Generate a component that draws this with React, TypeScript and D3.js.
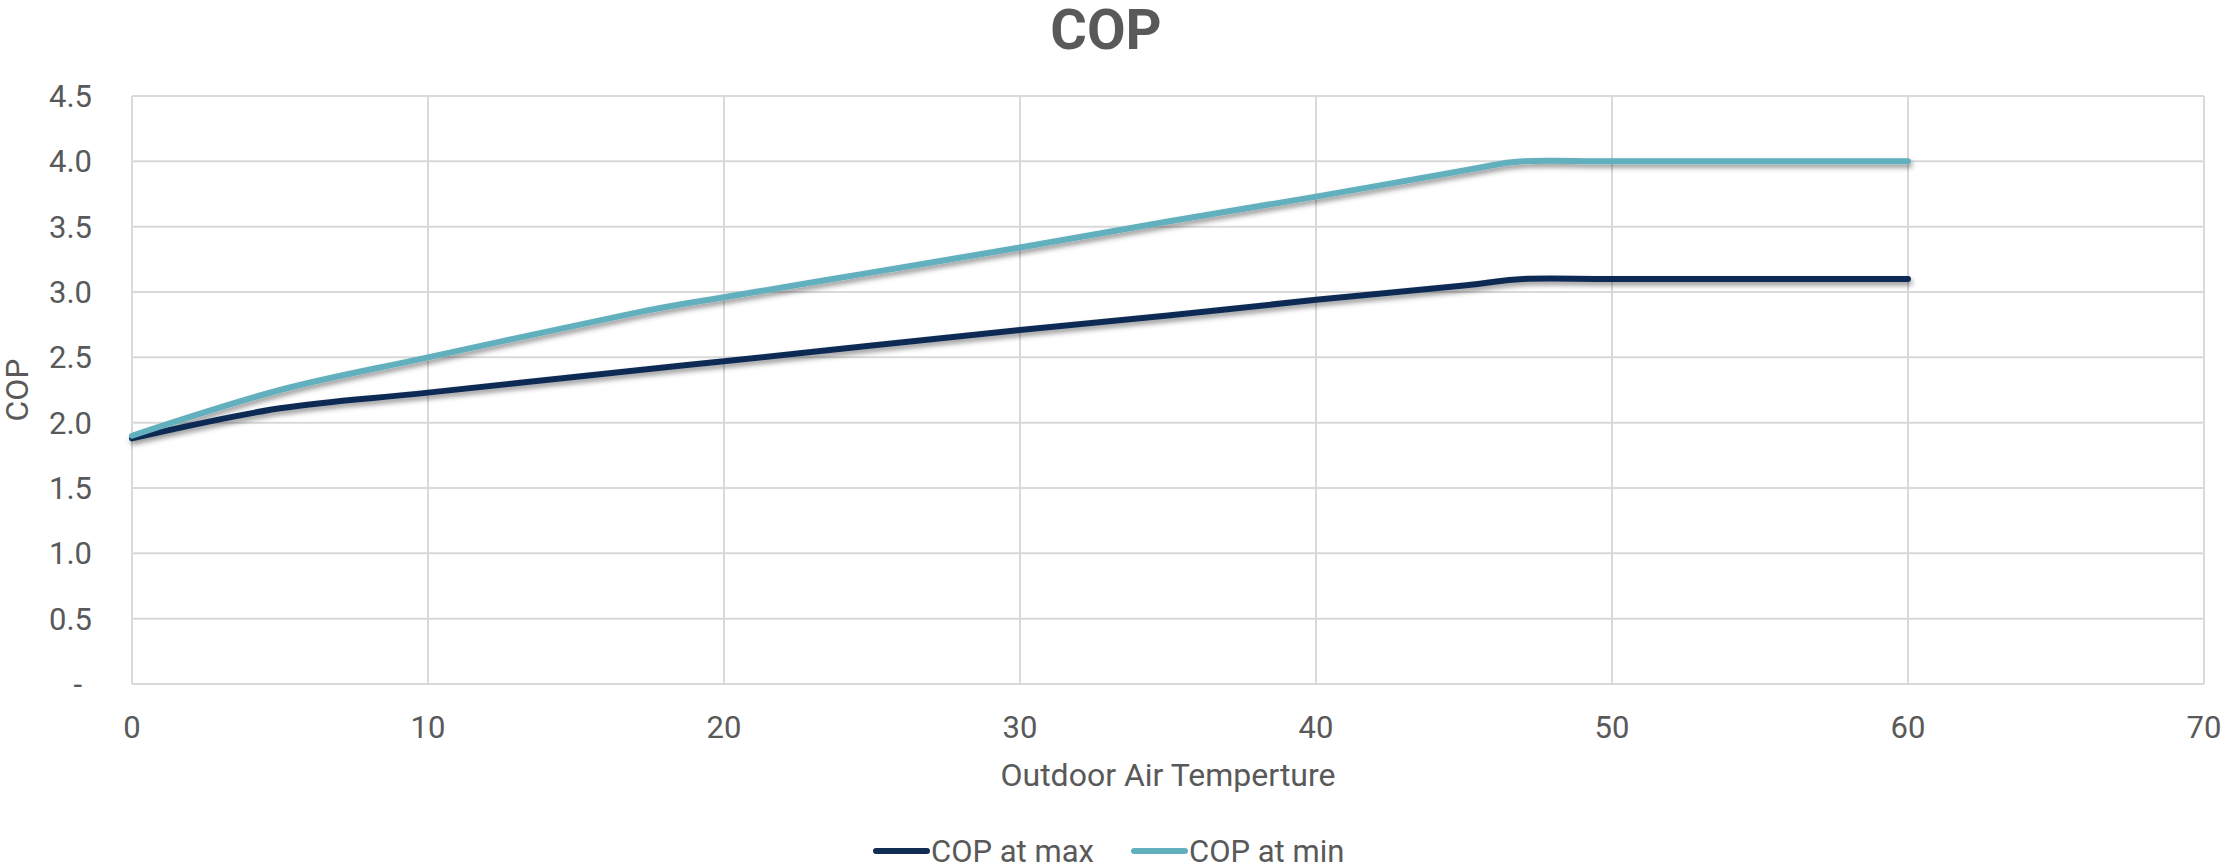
import React from "react";
import * as d3 from "d3";

// Outdoor air temperature
const temps = [0, 5, 10, 17, 20, 25, 30, 35, 40, 45, 47, 50, 55, 60];
// COP at maximum capacity
const copMax = [1.88, 2.11, 2.23, 2.4, 2.47, 2.59, 2.71, 2.82, 2.94, 3.05, 3.1, 3.1, 3.1, 3.1];
// COP at minimum capacity
const copMin = [1.9, 2.25, 2.5, 2.84, 2.96, 3.15, 3.34, 3.54, 3.73, 3.93, 4.0, 4.0, 4.0, 4.0];

const xTicks = [0, 10, 20, 30, 40, 50, 60, 70];
const yTicks = [0, 0.5, 1, 1.5, 2, 2.5, 3, 3.5, 4, 4.5];

const seriesNames = ["COP at max", "COP at min"];
const seriesColors = ["#112C55", "#62AFBD"];

const W = 2221;
const H = 865;
const FONT = "Roboto, 'Noto Sans', sans-serif";
const TEXT = "#595959";
const GRID = "#D9D9D9";

export default function App() {
  const x = d3.scaleLinear().domain([0, 70]).range([132, 2204]);
  const y = d3.scaleLinear().domain([0, 4.5]).range([684, 96]);

  const line = d3
    .line<[number, number]>()
    .x((d) => x(d[0]))
    .y((d) => y(d[1]))
    .curve(d3.curveCardinal.tension(0));

  const series = [copMax, copMin].map((vals) =>
    temps.map((t, i) => [t, vals[i]] as [number, number])
  );

  const yLabel = (v: number) => (v === 0 ? "-" : d3.format(".1f")(v));

  return (
    <>
      <style>{`body{margin:0}`}</style>
      <svg width={W} height={H} style={{ display: "block", background: "#fff" }} fontFamily={FONT}>
        <defs>
          <filter id="lineShadow" x="-5%" y="-20%" width="110%" height="160%">
            <feDropShadow dx="1.5" dy="3.5" stdDeviation="2.5" floodColor="#000" floodOpacity="0.4" />
          </filter>
        </defs>

        {/* title */}
        <text x={1106} y={49} textAnchor="middle" fontSize={56} fontWeight="bold" fill={TEXT}>
          COP
        </text>

        {/* grid */}
        <g>
          {yTicks.map((t) => (
            <line key={"gy" + t} x1={x(0)} x2={x(70)} y1={y(t)} y2={y(t)} stroke={GRID} strokeWidth={2} />
          ))}
          {xTicks.map((t) => (
            <line key={"gx" + t} x1={x(t)} x2={x(t)} y1={y(0)} y2={y(4.5)} stroke={GRID} strokeWidth={2} />
          ))}
        </g>

        {/* y tick labels */}
        <g fontSize={31} fill={TEXT}>
          {yTicks.map((t) => (
            <text key={"ly" + t} x={t === 0 ? 82 : 92} y={y(t)} dy="0.35em" textAnchor="end">
              {yLabel(t)}
            </text>
          ))}
        </g>

        {/* x tick labels */}
        <g fontSize={31} fill={TEXT}>
          {xTicks.map((t) => (
            <text key={"lx" + t} x={x(t)} y={738} textAnchor="middle">
              {t}
            </text>
          ))}
        </g>

        {/* axis titles */}
        <text
          transform={`translate(28,${(y(0) + y(4.5)) / 2}) rotate(-90)`}
          textAnchor="middle"
          fontSize={32}
          fill={TEXT}
        >
          COP
        </text>
        <text x={(x(0) + x(70)) / 2} y={786} textAnchor="middle" fontSize={32} fill={TEXT}>
          Outdoor Air Temperture
        </text>

        {/* series */}
        <g filter="url(#lineShadow)">
          {series.map((s, i) => (
            <path
              key={"s" + i}
              d={line(s) || ""}
              fill="none"
              stroke={seriesColors[i]}
              strokeWidth={6}
              strokeLinecap="round"
              strokeLinejoin="round"
            />
          ))}
        </g>

        {/* legend */}
        <g fontSize={31} fill={TEXT}>
          {seriesNames.map((n, i) => {
            const x0 = i === 0 ? 876 : 1134;
            return (
              <g key={"lg" + i}>
                <line x1={x0} x2={x0 + 51} y1={851} y2={851} stroke={seriesColors[i]} strokeWidth={6} strokeLinecap="round" />
                <text x={x0 + 55} y={862}>
                  {n}
                </text>
              </g>
            );
          })}
        </g>
      </svg>
    </>
  );
}
